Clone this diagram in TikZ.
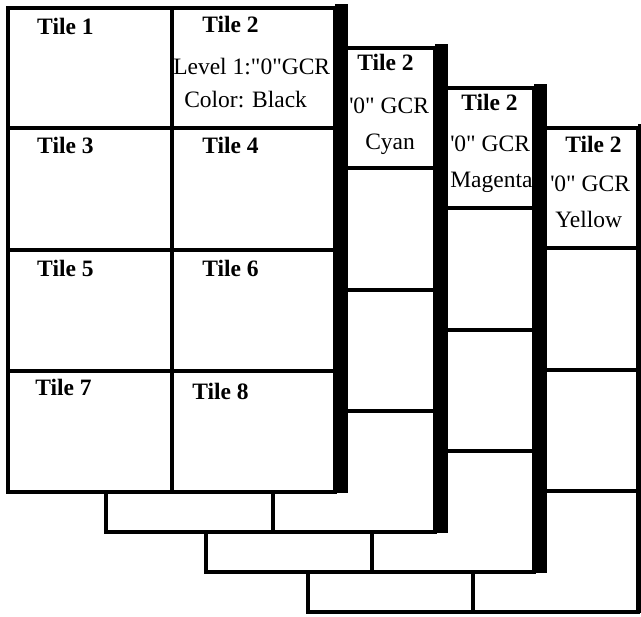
\documentclass[tikz,border=0pt]{standalone}
\usepackage{fontspec}
\setmainfont{Liberation Serif}[Ligatures=TeXOff]
\newcommand\mysheet[4]{%
  \fill[white] (#1,#2) rectangle (#3,{#2+484});
  \draw[line join=miter] (#1,#2) rectangle (#3,{#2+484});
  \draw (#4,#2) -- (#4,{#2+484});
  \foreach \r in {120,242,363} \draw (#1,{#2+\r}) -- (#3,{#2+\r});
  \fill (#3,{#2-4}) rectangle ({#3+13},{#2+485});
}
\begin{document}
\begin{tikzpicture}[x=1pt,y=-1pt,line width=4.5pt,
  txt/.style={inner sep=0pt,anchor=base west,font=\fontsize{23.5}{28}\selectfont},
  hd/.style={inner sep=0pt,anchor=base west,font=\fontsize{23.5}{28}\selectfont\bfseries}]
\clip (0,0) rectangle (641,617);
\fill[white] (0,0) rectangle (641,617);
% back sheets first
\mysheet{308}{128}{638}{473}
\mysheet{206}{88}{534}{372}
\mysheet{106}{48}{435}{273}
\mysheet{8}{8}{335}{172}
% front sheet labels
\node[hd] (t1) at (35,35) {Tile 1};
\node[hd] (t2) at (200,33) {Tile 2};
\node[txt] (lv) at (171,75) {Level 1:"0"GCR};
\node[txt] (cb) at (182,108) {Color: Black};
\node[hd] (t3) at (35,154) {Tile 3};
\node[hd] (t4) at (200,154) {Tile 4};
\node[hd] (t5) at (35,277) {Tile 5};
\node[hd] (t6) at (200,277) {Tile 6};
\node[hd] (t7) at (33,396) {Tile 7};
\node[hd] (t8) at (190,400) {Tile 8};
% cyan
\node[hd] (ct) at (355,71) {Tile 2};
\node[txt] (cg) at (347,114) {'0" GCR};
\node[txt] (cc) at (363,150) {Cyan};
% magenta
\node[hd] (mt) at (459,111) {Tile 2};
\node[txt] (mg) at (448,152) {'0" GCR};
\node[txt] (mm) at (448,188) {Magenta};
% yellow
\node[hd] (yt) at (563,153) {Tile 2};
\node[txt] (yg) at (548,192) {'0" GCR};
\node[txt] (yy) at (553,228) {Yellow};
\end{tikzpicture}
\end{document}
